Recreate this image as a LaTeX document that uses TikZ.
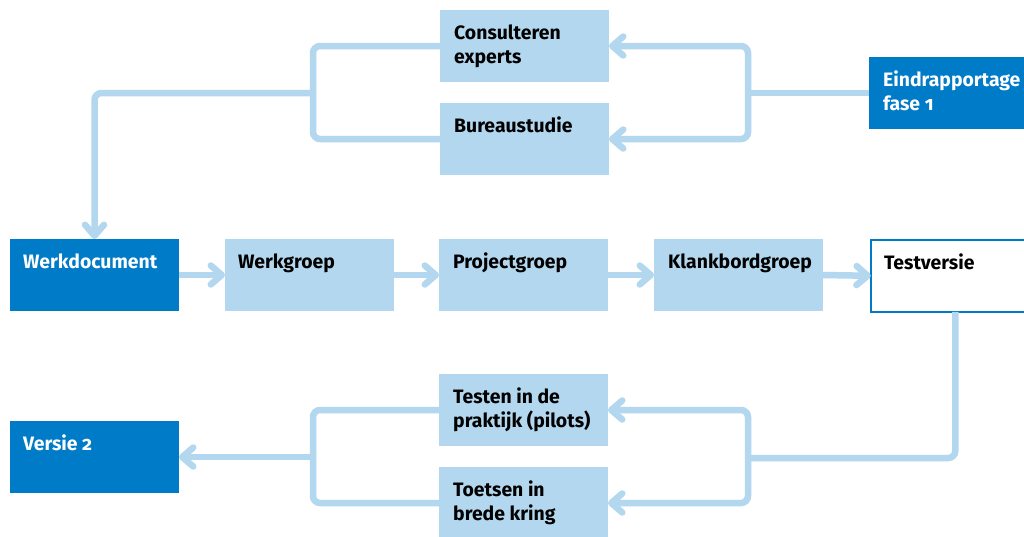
\documentclass[tikz,border=0pt]{standalone}
\usepackage{fontspec}
\setmainfont{Fira Sans}[Numbers=OldStyle]
\usetikzlibrary{arrows.meta,calc}
\definecolor{dblue}{HTML}{007BC7}
\definecolor{lblue}{HTML}{B2D7EE}
\newcommand\firstln{\rule{0pt}{20pt}}
\tikzset{
  boxbase/.style={minimum width=169pt, minimum height=72pt, anchor=north west, inner sep=0pt, outer sep=0pt},
  lbox/.style={boxbase, fill=lblue},
  dbox/.style={boxbase, fill=dblue},
  wbox/.style={boxbase, fill=white, draw=dblue, line width=1.6pt},
  txt/.style={anchor=north west, inner sep=0pt, align=left, font=\fontsize{19.4pt}{24.5pt}\selectfont\bfseries},
  wtxt/.style={txt, text=white},
  conn/.style={draw=lblue, line width=6.5pt, rounded corners=7pt},
  arr/.style={conn, -{Straight Barb[length=11pt,width=19pt,round]}}
}
\begin{document}
\begin{tikzpicture}[x=1pt,y=1pt]
\clip (0,0) rectangle (1024,-536);
\fill[white] (0,0) rectangle (1024,-536);
% boxes
\node[lbox] (cons) at (440,-10) {};
\node[lbox] (bur) at (440,-103) {};
\node[dbox] (eind) at (869,-57) {};
\node[dbox] (werkdoc) at (10,-239) {};
\node[lbox] (werkgr) at (225,-239) {};
\node[lbox] (proj) at (439,-239) {};
\node[lbox] (klank) at (654,-239) {};
\node[wbox] (test) at (870.8,-239.8) {};
\node[lbox] (testen) at (439,-374) {};
\node[lbox] (toets) at (439,-467) {};
\node[dbox] (versie) at (10,-421) {};
% texts
\node[txt]  (tcons) at ($(cons.north west)+(14,-9)$) {\firstln Consulteren\\experts};
\node[txt]  (tbur) at ($(bur.north west)+(14,-9)$) {\firstln Bureaustudie};
\node[wtxt] (teind) at ($(eind.north west)+(14,-9)$) {\firstln Eindrapportage\\fase 1};
\node[wtxt] (twerkdoc) at ($(werkdoc.north west)+(13,-9)$) {\firstln Werkdocument};
\node[txt]  (twerkgr) at ($(werkgr.north west)+(13,-9)$) {\firstln Werkgroep};
\node[txt]  (tproj) at ($(proj.north west)+(14,-9)$) {\firstln Projectgroep};
\node[txt]  (tklank) at ($(klank.north west)+(14,-9)$) {\firstln Klankbordgroep};
\node[txt]  (ttest) at ($(test.north west)+(13,-9)$) {\firstln Testversie};
\node[txt]  (ttesten) at ($(testen.north west)+(14,-9)$) {\firstln Testen in de\\praktijk (pilots)};
\node[txt]  (ttoets) at ($(toets.north west)+(14,-9)$) {\firstln Toetsen in\\brede kring};
\node[wtxt] (tversie) at ($(versie.north west)+(13,-9)$) {\firstln Versie 2};
% junctions
\coordinate (j1) at (748,-93);
\coordinate (j2) at (313,-93);
\coordinate (j3) at (748,-458);
\coordinate (j4) at (313,-457);
% top connectors
\draw[conn] (eind.west) -- (j1);
\draw[arr] (j1) |- (cons.east);
\draw[arr] (j1) |- (bur.east);
\draw[conn] (cons.west) -| (j2);
\draw[conn] (bur.west) -| (j2);
\draw[arr] (j2) -| (werkdoc.north);
% middle row
\draw[arr] (werkdoc.east) -- (werkgr.west);
\draw[arr] (werkgr.east) -- (proj.west);
\draw[arr] (proj.east) -- (klank.west);
\draw[arr] (klank.east) -- (test.west);
% bottom connectors
\draw[conn] (test.south) |- (j3);
\draw[arr] (j3) |- (testen.east);
\draw[arr] (j3) |- (toets.east);
\draw[conn] (testen.west) -| (j4);
\draw[conn] (toets.west) -| (j4);
\draw[arr] (j4) -- (versie.east);
\end{tikzpicture}
\end{document}
